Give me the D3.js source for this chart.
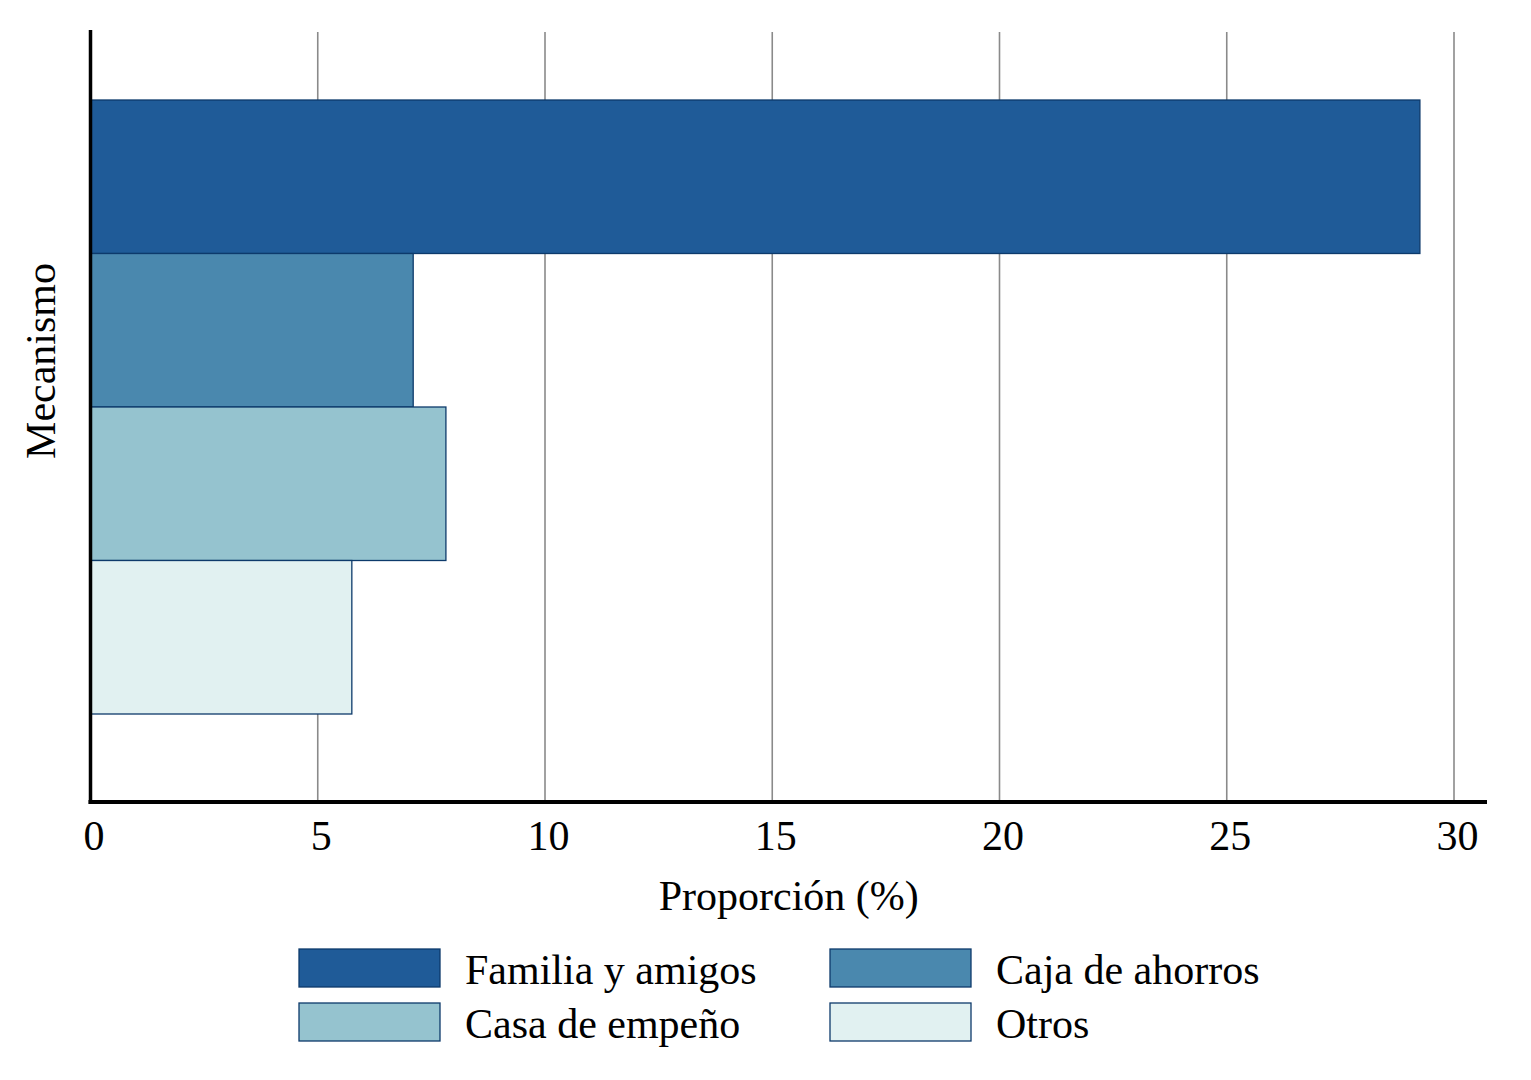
<!DOCTYPE html>
<html>
<head>
<meta charset="utf-8">
<script src="https://cdn.jsdelivr.net/npm/d3@7"></script>
<style>
  html, body { margin: 0; padding: 0; background: #ffffff; }
  svg { display: block; }
  text { font-family: "Liberation Serif", "Times New Roman", serif; fill: #000; }
</style>
</head>
<body>
<svg id="chart" width="1531" height="1080"></svg>
<script>
// ---- Data ----
const categories = ["Familia y amigos", "Caja de ahorros", "Casa de empeño", "Otros"];
const values = [29.25, 7.1, 7.82, 5.75];
const colors = ["#1f5b98", "#4a88ae", "#95c3cf", "#e1f1f1"];
const xTicks = [0, 5, 10, 15, 20, 25, 30];
const xLabel = "Proporción (%)";
const yLabel = "Mecanismo";

// ---- Layout ----
const svg = d3.select("#chart");
const plot = { left: 90.5, right: 1454, top: 32, bottom: 802, axisEnd: 1487 };
const fontSize = 42;

const x = d3.scaleLinear().domain([0, 30]).range([plot.left, plot.right]);
const y = d3.scaleBand().domain(categories).range([100, 714]).padding(0);

// gridlines
svg.append("g")
  .selectAll("line")
  .data(xTicks)
  .join("line")
  .attr("x1", d => x(d)).attr("x2", d => x(d))
  .attr("y1", plot.top).attr("y2", plot.bottom)
  .attr("stroke", "#8a8a8a")
  .attr("stroke-width", 1.6);

// bars
svg.append("g")
  .selectAll("rect")
  .data(categories)
  .join("rect")
  .attr("x", x(0))
  .attr("y", d => y(d))
  .attr("width", (d, i) => x(values[i]) - x(0))
  .attr("height", y.bandwidth())
  .attr("fill", (d, i) => colors[i])
  .attr("stroke", "#0d3a6b")
  .attr("stroke-width", 1.3);

// x axis
const xAxis = d3.axisBottom(x).tickValues(xTicks).tickSize(0).tickPadding(0).tickFormat(d3.format("d"));
const gx = svg.append("g").attr("transform", `translate(0,${plot.bottom})`).call(xAxis);
gx.select(".domain").remove();
gx.selectAll("text")
  .attr("font-family", "Liberation Serif, serif")
  .attr("font-size", fontSize)
  .attr("fill", "#000")
  .attr("dy", null)
  .attr("y", 48)
  .attr("dx", 3);

svg.append("line")
  .attr("x1", plot.left - 2).attr("x2", plot.axisEnd)
  .attr("y1", plot.bottom).attr("y2", plot.bottom)
  .attr("stroke", "#000").attr("stroke-width", 4);

// y axis line
svg.append("line")
  .attr("x1", plot.left).attr("x2", plot.left)
  .attr("y1", 30).attr("y2", plot.bottom + 2)
  .attr("stroke", "#000").attr("stroke-width", 3.5);

// axis titles
svg.append("text")
  .attr("x", (plot.left + plot.axisEnd) / 2)
  .attr("y", 910)
  .attr("text-anchor", "middle")
  .attr("font-size", fontSize)
  .text(xLabel);

svg.append("text")
  .attr("transform", "translate(55,361) rotate(-90)")
  .attr("text-anchor", "middle")
  .attr("font-size", fontSize)
  .text(yLabel);

// legend
const legX = d3.scaleOrdinal().domain([0, 1]).range([299, 830]);
const legY = d3.scaleOrdinal().domain([0, 1]).range([949, 1003]);
const leg = svg.append("g")
  .selectAll("g")
  .data(categories)
  .join("g")
  .attr("transform", (d, i) => `translate(${legX(i % 2)},${legY(Math.floor(i / 2))})`);
leg.append("rect")
  .attr("width", 141).attr("height", 38)
  .attr("fill", (d, i) => colors[i])
  .attr("stroke", "#0d3a6b")
  .attr("stroke-width", 1.3);
leg.append("text")
  .attr("x", 166)
  .attr("y", 35)
  .attr("font-size", fontSize)
  .text(d => d);
</script>
</body>
</html>
